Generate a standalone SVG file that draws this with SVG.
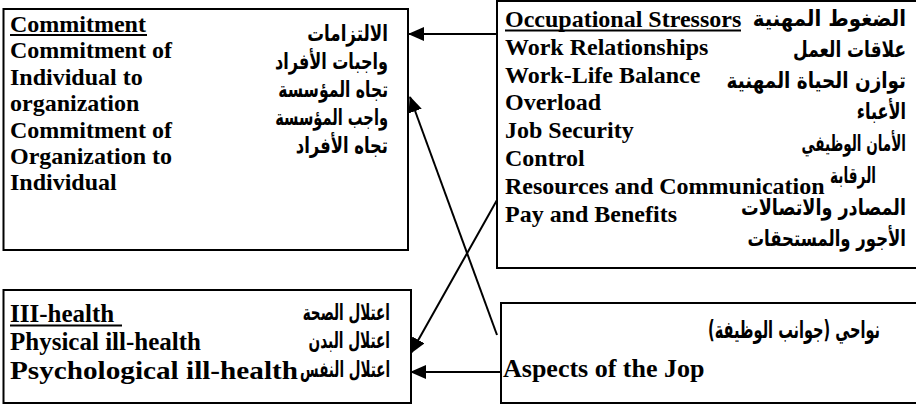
<svg xmlns="http://www.w3.org/2000/svg" width="916" height="406" viewBox="0 0 916 406">
<style>
.box{fill:#fff;stroke:#000;stroke-width:2}
.en{font-family:"Liberation Serif","Times New Roman",serif;font-weight:bold;font-size:24px;fill:#000}
.en2{font-size:25px}
.ar{font-family:"DejaVu Sans",sans-serif;font-weight:bold;font-size:22px;fill:#000;text-anchor:end}
.ar4{font-size:24px}
.ul{stroke:#000;stroke-width:2}
.con{stroke:#000;stroke-width:2;fill:none}
</style>
<defs>
<marker id="ah" viewBox="0 0 16 14" refX="15" refY="7" markerWidth="16" markerHeight="14" markerUnits="userSpaceOnUse" orient="auto">
<path d="M0,0 L16,7 L0,14 Z" fill="#000"/>
</marker>
</defs>
<rect width="916" height="406" fill="#fff"/>
<g id="commitment">
<rect class="box" x="3.5" y="9" width="404.5" height="241"/>
<text class="en" x="10" y="32">Commitment</text>
<line class="ul" x1="10" y1="35" x2="147" y2="35"/>
<text class="en" x="10" y="58.4">Commitment of</text>
<text class="en" x="10" y="84.8">Individual to</text>
<text class="en" x="10" y="111.2">organization</text>
<text class="en" x="10" y="137.6">Commitment of</text>
<text class="en" x="10" y="164">Organization to</text>
<text class="en" x="10" y="190.4">Individual</text>
<text class="ar" transform="translate(388 41) scale(0.76 1)">الالتزامات</text>
<text class="ar" transform="translate(388 69) scale(0.73 1)">واجبات الأفراد</text>
<text class="ar" transform="translate(388 97) scale(0.71 1)">تجاه المؤسسة</text>
<text class="ar" transform="translate(388 125) scale(0.665 1)">واجب المؤسسة</text>
<text class="ar" transform="translate(388 153) scale(0.745 1)">تجاه الأفراد</text>
</g>
<g id="stressors">
<rect class="box" x="497" y="1" width="421" height="267"/>
<text class="en" x="505" y="27">Occupational Stressors</text>
<line class="ul" x1="505" y1="30.5" x2="741" y2="30.5"/>
<text class="en" x="505" y="55">Work Relationships</text>
<text class="en" x="505" y="83">Work-Life Balance</text>
<text class="en" x="505" y="110">Overload</text>
<text class="en" x="505" y="138">Job Security</text>
<text class="en" x="505" y="166">Control</text>
<text class="en" x="505" y="194">Resources and Communication</text>
<text class="en" x="505" y="222">Pay and Benefits</text>
<text class="ar" transform="translate(906 26) scale(0.9 1)">الضغوط المهنية</text>
<text class="ar" transform="translate(906 57) scale(0.77 1)">علاقات العمل</text>
<text class="ar" transform="translate(906 88) scale(0.837 1)">توازن الحياة المهنية</text>
<text class="ar" transform="translate(906 119) scale(0.73 1)">الأعباء</text>
<text class="ar" transform="translate(906 151) scale(0.617 1)">الأمان الوظيفي</text>
<text class="ar" transform="translate(876 183) scale(0.625 1)">الرقابة</text>
<text class="ar" transform="translate(906 215) scale(0.8 1)">المصادر والاتصالات</text>
<text class="ar" transform="translate(906 246) scale(0.75 1)">الأجور والمستحقات</text>
</g>
<g id="illhealth">
<rect class="box" x="3.5" y="290" width="407.5" height="113"/>
<text class="en en2" x="10" y="322">III-health</text>
<line class="ul" x1="10" y1="325.5" x2="122" y2="325.5"/>
<text class="en en2" x="10" y="350">Physical ill-health</text>
<text class="en en2" x="10" y="379" textLength="288" lengthAdjust="spacingAndGlyphs">Psychological ill-health</text>
<text class="ar" transform="translate(390 320) scale(0.617 1)">اعتلال الصحة</text>
<text class="ar" transform="translate(390 348) scale(0.621 1)">اعتلال البدن</text>
<text class="ar" transform="translate(390 377) scale(0.613 1)">اعتلال النفس</text>
</g>
<g id="aspects">
<rect class="box" x="501" y="303" width="417" height="100"/>
<text class="ar ar4" transform="translate(880 338) scale(0.606 1)">&#x200F;نواحي (جوانب الوظيفة)&#x200F;</text>
<text class="en" x="503" y="377" style="font-size:26px">Aspects of the Jop</text>
</g>
<g id="connectors">
<line class="con" x1="497" y1="34" x2="409" y2="34" marker-end="url(#ah)"/>
<line class="con" x1="497" y1="335" x2="410" y2="97" marker-end="url(#ah)"/>
<line class="con" x1="497" y1="200" x2="411" y2="353" marker-end="url(#ah)"/>
<line class="con" x1="501" y1="372" x2="411" y2="372" marker-end="url(#ah)"/>
</g>
</svg>
